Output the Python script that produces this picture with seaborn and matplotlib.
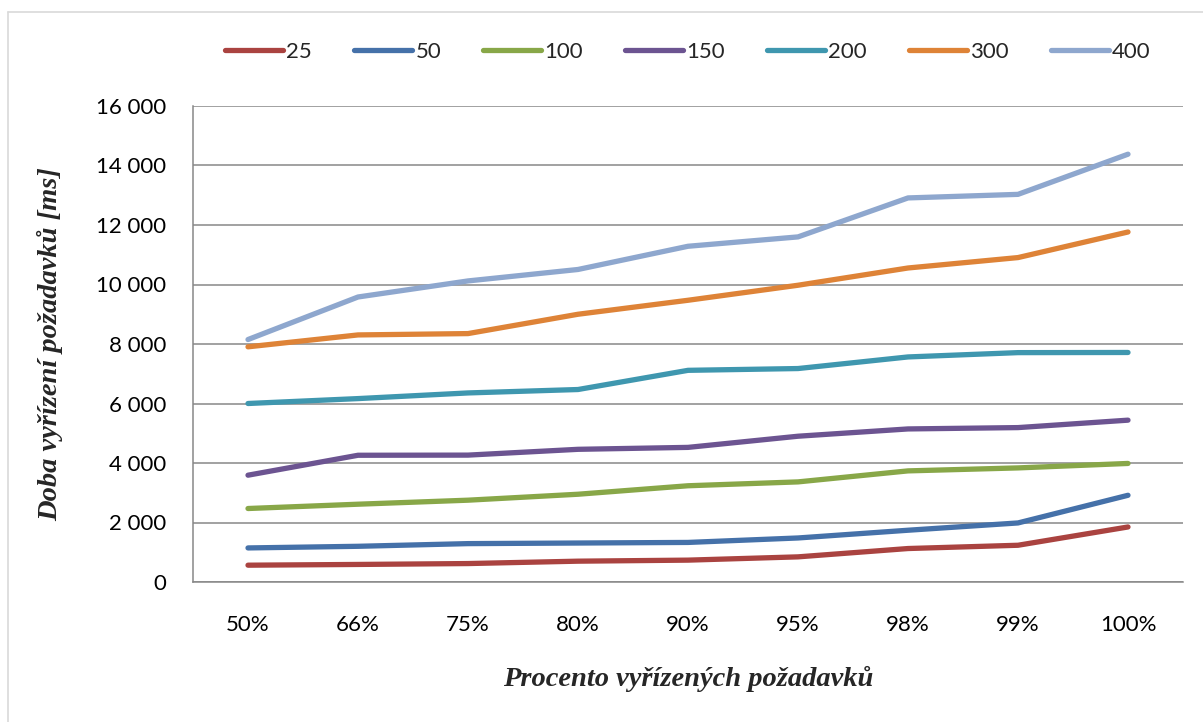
import matplotlib
matplotlib.use("Agg")
import matplotlib.pyplot as plt
from matplotlib.ticker import FuncFormatter, MultipleLocator
from matplotlib.lines import Line2D
import seaborn as sns
import pandas as pd

# Percentile of requests served (x categories)
percentiles = ["50%", "66%", "75%", "80%", "90%", "95%", "98%", "99%", "100%"]

# Response time [ms] per number of concurrent users
users = ["25", "50", "100", "150", "200", "300", "400"]
t25 = [565, 590, 620, 700, 735, 845, 1125, 1235, 1850]
t50 = [1145, 1200, 1290, 1310, 1330, 1480, 1740, 1985, 2915]
t100 = [2470, 2615, 2750, 2950, 3235, 3365, 3735, 3835, 3985]
t150 = [3590, 4260, 4265, 4460, 4525, 4900, 5145, 5190, 5440]
t200 = [6000, 6165, 6355, 6470, 7115, 7175, 7565, 7710, 7715]
t300 = [7905, 8305, 8350, 9000, 9470, 9975, 10555, 10905, 11765]
t400 = [8150, 9580, 10120, 10505, 11285, 11600, 12910, 13030, 14380]
series = [t25, t50, t100, t150, t200, t300, t400]

colors = ["#AA4340", "#4571A9", "#88A748", "#6C5491", "#3F97AF", "#DE8337", "#8EA7CE"]

rows = []
for u, vals in zip(users, series):
    for p, v in zip(percentiles, vals):
        rows.append({"Procento": p, "Doba": v, "Uživatelé": u})
df = pd.DataFrame(rows)

sns.set_theme(style="white")
plt.rcParams["font.family"] = ["Lato", "DejaVu Sans"]

fig = plt.figure(figsize=(12.03, 7.22), dpi=100)
ax = fig.add_axes([193 / 1203, 1 - 582 / 722, (1183 - 193) / 1203, (582 - 106) / 722])

palette = dict(zip(users, colors))
sns.lineplot(data=df, x="Procento", y="Doba", hue="Uživatelé", hue_order=users,
             palette=palette, linewidth=3.8, ax=ax, legend=False,
             solid_capstyle="round", solid_joinstyle="round", sort=False)

ax.set_xlim(-0.5, len(percentiles) - 0.5)
ax.set_ylim(0, 16000)
ax.yaxis.set_major_locator(MultipleLocator(2000))
ax.yaxis.set_major_formatter(FuncFormatter(lambda v, _: f"{int(v):,}".replace(",", " ")))
ax.grid(axis="y", color="#878787", linewidth=1.1)
ax.set_axisbelow(True)
for s in ["top", "right"]:
    ax.spines[s].set_visible(False)
for s in ["left", "bottom"]:
    ax.spines[s].set_color("#878787")
    ax.spines[s].set_linewidth(1.1)
ax.tick_params(axis="both", length=0, labelsize=16, colors="black")
ax.tick_params(axis="y", pad=19)
ax.tick_params(axis="x", pad=24)

serif = dict(family="Liberation Serif", weight="bold", style="italic", size=20.5)
ax.set_xlabel("Procento vyřízených požadavků", fontdict=serif, labelpad=22)
ax.set_ylabel("Doba vyřízení požadavků [ms]", fontdict=serif, labelpad=24)

handles = [Line2D([0], [0], color=c, linewidth=3.8, solid_capstyle="round") for c in colors]
fig.legend(handles, users, loc="center", bbox_to_anchor=(688 / 1203, 1 - 52 / 722),
           ncol=7, frameon=False, fontsize=16, handlelength=2.6,
           handletextpad=0.15, columnspacing=1.9)

# Light chart border
fig.add_artist(Line2D([8 / 1203, 8 / 1203], [0, 1 - 12 / 722], transform=fig.transFigure,
                      color="#D9D9D9", linewidth=1.2))
fig.add_artist(Line2D([8 / 1203, 1], [1 - 12 / 722, 1 - 12 / 722], transform=fig.transFigure,
                      color="#D9D9D9", linewidth=1.2))

fig.savefig("out.png", dpi=100)
